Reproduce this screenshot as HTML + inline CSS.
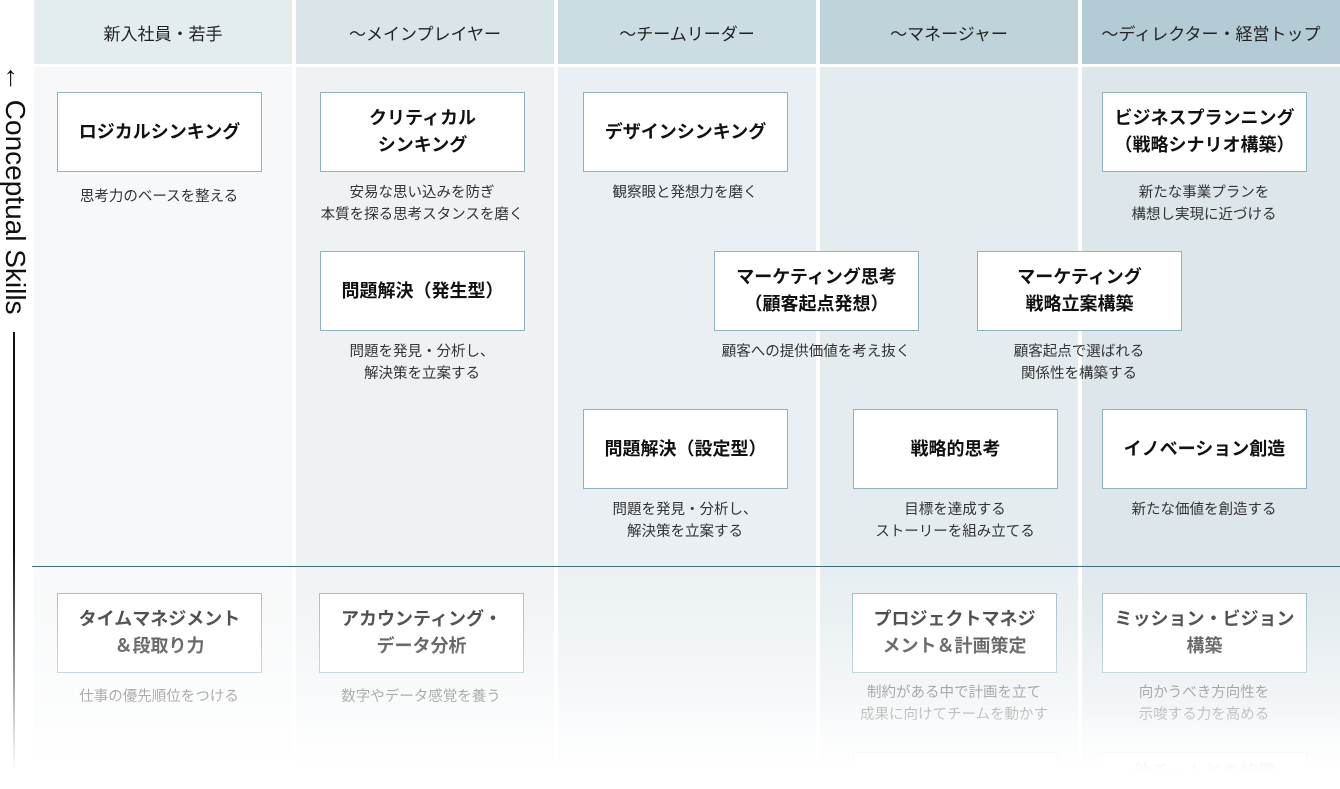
<!DOCTYPE html>
<html><head><meta charset="utf-8"><style>
*{margin:0;padding:0;box-sizing:border-box}
html,body{width:1340px;height:789px;overflow:hidden;background:#fff}
body{font-family:"Liberation Sans","Noto Sans CJK JP",sans-serif;color:#222}
#w{position:relative;width:1340px;height:789px;overflow:hidden}
.h{position:absolute;top:0;height:64px;font-size:17px;display:flex;align-items:center;justify-content:center;color:#222}
.c{position:absolute;top:67px;height:722px}
.b{position:absolute;width:205px;height:80px;background:#fff;border:1px solid #8fb3be;display:flex;align-items:center;justify-content:center;text-align:center;font-weight:bold;font-size:18px;line-height:27px;color:#111}
.d{position:absolute;width:260px;text-align:center;font-size:14.5px;line-height:22px;color:#333}
</style></head><body><div id="w">
<div class="h" style="left:34px;width:258px;background:#e3ecef">新入社員・若手</div>
<div class="h" style="left:296px;width:258px;background:#d9e5e9">〜メインプレイヤー</div>
<div class="h" style="left:558px;width:258px;background:#cbdce2">〜チームリーダー</div>
<div class="h" style="left:820px;width:258px;background:#bfd3da">〜マネージャー</div>
<div class="h" style="left:1082px;width:258px;background:#b2cbd4">〜ディレクター・経営トップ</div>
<div class="c" style="left:34px;width:258px;background:#f6f8f9"></div>
<div class="c" style="left:296px;width:258px;background:#eef2f4"></div>
<div class="c" style="left:558px;width:258px;background:#e9eff2"></div>
<div class="c" style="left:820px;width:258px;background:#e4ecef"></div>
<div class="c" style="left:1082px;width:258px;background:#dce6eb"></div>

<div class="b" style="left:57px;top:92px">ロジカルシンキング</div>
<div class="d" style="left:29px;top:186px">思考力のベースを整える</div>
<div class="b" style="left:320px;top:92px">クリティカル<br>シンキング</div>
<div class="d" style="left:292px;top:182px">安易な思い込みを防ぎ<br>本質を探る思考スタンスを磨く</div>
<div class="b" style="left:583px;top:92px">デザインシンキング</div>
<div class="d" style="left:555px;top:182px">観察眼と発想力を磨く</div>
<div class="b" style="left:1102px;top:92px">ビジネスプランニング<br>（戦略シナリオ構築）</div>
<div class="d" style="left:1074px;top:182px">新たな事業プランを<br>構想し実現に近づける</div>

<div class="b" style="left:320px;top:251px">問題解決（発生型）</div>
<div class="d" style="left:292px;top:341px">問題を発見・分析し、<br>解決策を立案する</div>
<div class="b" style="left:714px;top:251px">マーケティング思考<br>（顧客起点発想）</div>
<div class="d" style="left:686px;top:341px">顧客への提供価値を考え抜く</div>
<div class="b" style="left:977px;top:251px">マーケティング<br>戦略立案構築</div>
<div class="d" style="left:949px;top:341px">顧客起点で選ばれる<br>関係性を構築する</div>

<div class="b" style="left:583px;top:409px">問題解決（設定型）</div>
<div class="d" style="left:555px;top:499px">問題を発見・分析し、<br>解決策を立案する</div>
<div class="b" style="left:853px;top:409px">戦略的思考</div>
<div class="d" style="left:825px;top:499px">目標を達成する<br>ストーリーを組み立てる</div>
<div class="b" style="left:1102px;top:409px">イノベーション創造</div>
<div class="d" style="left:1074px;top:499px">新たな価値を創造する</div>

<div style="position:absolute;left:32px;top:566px;width:1308px;height:1px;background:#3e6e75"></div>

<div class="b" style="left:57px;top:593px">タイムマネジメント<br>＆段取り力</div>
<div class="d" style="left:29px;top:686px">仕事の優先順位をつける</div>
<div class="b" style="left:319px;top:593px">アカウンティング・<br>データ分析</div>
<div class="d" style="left:291px;top:686px">数字やデータ感覚を養う</div>
<div class="b" style="left:852px;top:593px">プロジェクトマネジ<br>メント＆計画策定</div>
<div class="d" style="left:824px;top:682px">制約がある中で計画を立て<br>成果に向けてチームを動かす</div>
<div class="b" style="left:1102px;top:593px">ミッション・ビジョン<br>構築</div>
<div class="d" style="left:1074px;top:682px">向かうべき方向性を<br>示唆する力を高める</div>
<div class="b" style="left:853px;top:752px;height:37px"></div>
<div class="b" style="left:1102px;top:752px;height:37px;align-items:flex-start;padding-top:6px">他チームとの協働</div>

<div style="position:absolute;left:0;top:567px;width:1340px;height:222px;background:linear-gradient(to bottom,rgba(255,255,255,0.1) 0px,rgba(255,255,255,0.3) 60px,rgba(255,255,255,0.6) 130px,rgba(255,255,255,0.9) 180px,#fff 205px)"></div>

<div style="position:absolute;left:-140px;width:310px;height:30px;transform:rotate(90deg);transform-origin:center;white-space:nowrap;font-size:28px;line-height:30px;color:#111;text-align:left;top:204px">← Conceptual Skills</div>
<div style="position:absolute;left:13px;top:332px;width:2px;height:440px;background:linear-gradient(to bottom,#111 0%,#111 50%,rgba(0,0,0,0.15) 90%,rgba(0,0,0,0) 100%)"></div>
</div></body></html>
